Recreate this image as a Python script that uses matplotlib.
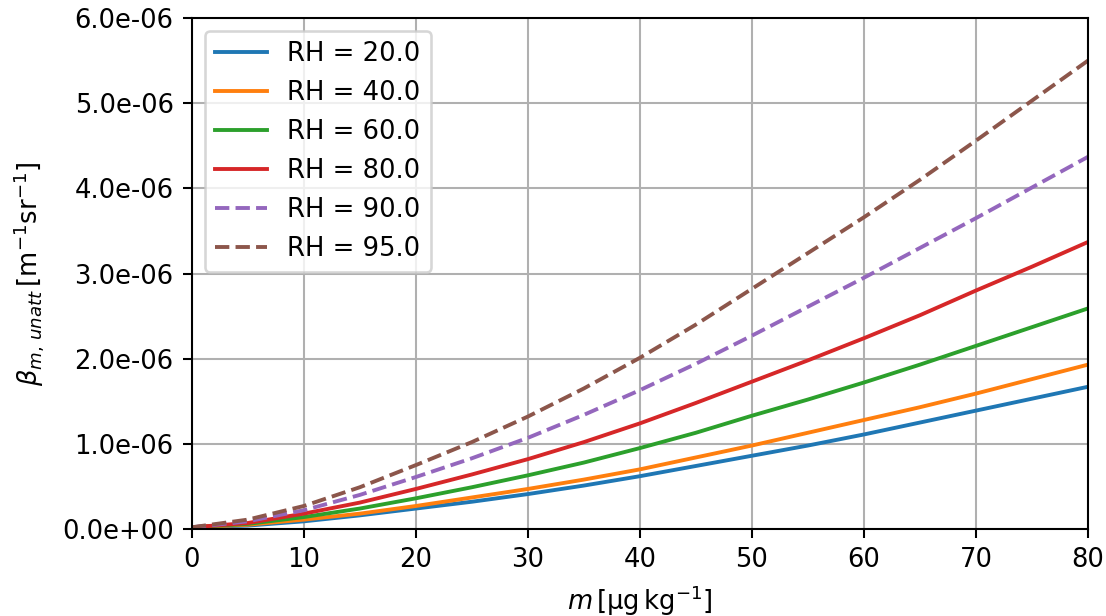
import matplotlib

matplotlib.use("Agg")
import matplotlib.pyplot as plt
from matplotlib.ticker import FormatStrFormatter

DPI = 186
W, H = 1106, 616

# mass concentration [ug/kg]
m = [0, 5, 10, 15, 20, 25, 30, 35, 40, 45, 50, 55, 60, 65, 70, 75, 80]

# unattenuated backscatter, in units of 1e-6 m^-1 sr^-1
beta_rh20 = [0.02, 0.04, 0.09, 0.16, 0.24, 0.32, 0.41, 0.51, 0.62, 0.74, 0.86, 0.98, 1.11, 1.25, 1.39, 1.53, 1.67]
beta_rh40 = [0.02, 0.05, 0.11, 0.18, 0.27, 0.37, 0.47, 0.58, 0.70, 0.84, 0.98, 1.13, 1.28, 1.43, 1.59, 1.76, 1.93]
beta_rh60 = [0.02, 0.06, 0.14, 0.24, 0.36, 0.49, 0.63, 0.78, 0.95, 1.13, 1.33, 1.52, 1.72, 1.93, 2.15, 2.37, 2.59]
beta_rh80 = [0.02, 0.07, 0.18, 0.31, 0.47, 0.64, 0.82, 1.02, 1.24, 1.48, 1.73, 1.98, 2.24, 2.51, 2.80, 3.08, 3.37]
beta_rh90 = [0.02, 0.09, 0.22, 0.40, 0.61, 0.83, 1.07, 1.34, 1.63, 1.94, 2.27, 2.61, 2.95, 3.30, 3.65, 4.01, 4.37]
beta_rh95 = [0.02, 0.11, 0.27, 0.49, 0.75, 1.02, 1.32, 1.65, 2.01, 2.40, 2.82, 3.24, 3.66, 4.10, 4.56, 5.03, 5.50]

rh_values = [20.0, 40.0, 60.0, 80.0, 90.0, 95.0]
series = [beta_rh20, beta_rh40, beta_rh60, beta_rh80, beta_rh90, beta_rh95]
styles = ["-", "-", "-", "-", "--", "--"]

fig = plt.figure(figsize=(W / DPI, H / DPI), dpi=DPI)
ax = fig.add_axes([191.7 / W, 1 - 529 / H, (1088 - 191.7) / W, (529 - 18) / H])

for rh, vals, ls in zip(rh_values, series, styles):
    ax.plot(m, [v * 1e-6 for v in vals], ls, label=f"RH = {rh}")

ax.set_xlim(0, 80)
ax.set_ylim(0, 6e-6)
ax.yaxis.set_major_formatter(FormatStrFormatter("%.1e"))
ax.grid(True)
ax.set_xlabel(r"$m\,[\mathrm{\mu g\,kg^{-1}}]$")
ax.set_ylabel(r"$\beta_{m,\,unatt}\,[\mathrm{m^{-1}sr^{-1}}]$", labelpad=6)
ax.legend(loc="upper left")

fig.savefig("out.png", dpi=DPI)
plt.close(fig)
